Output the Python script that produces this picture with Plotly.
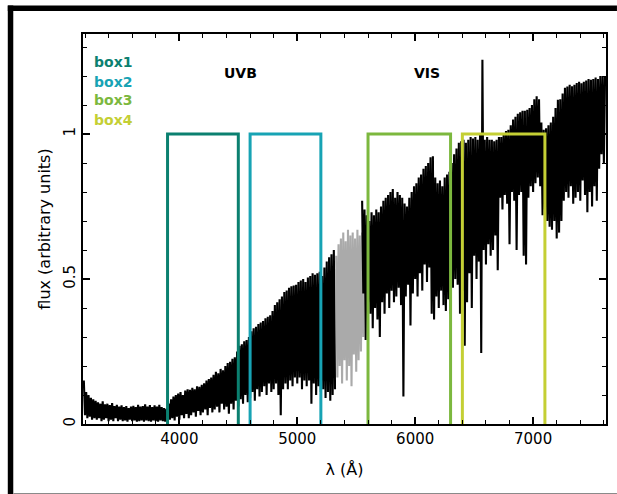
import numpy as np
import plotly.graph_objects as go

# ---------------- spectrum data (flux in arbitrary units, 10 A sampling) ----------------
UVB_START, VIS_START, DICH_START, STEP = 3190, 5550, 5330, 10

uvb_flux = [
    0.15, 0.03, 0.11, 0.02, 0.10, 0.025, 0.09, 0.015, 0.085, 0.02,
    0.08, 0.015, 0.075, 0.02, 0.07, 0.01, 0.078, 0.015, 0.068, 0.02,
    0.07, 0.01, 0.065, 0.015, 0.072, 0.01, 0.062, 0.02, 0.066, 0.01,
    0.06, 0.015, 0.064, 0.01, 0.058, 0.012, 0.062, 0.008, 0.055, 0.015,
    0.06, 0.01, 0.063, 0.012, 0.058, 0.008, 0.066, 0.01, 0.06, 0.012,
    0.062, 0.008, 0.068, 0.012, 0.06, 0.01, 0.065, 0.008, 0.058, 0.012,
    0.064, 0.01, 0.06, 0.008, 0.066, 0.012, 0.058, 0.01, 0.055, 0.008,
    0.052, 0.01, 0.07, 0.015, 0.085, 0.02, 0.095, 0.012, 0.10, 0.025,
    0.105, 0.015, 0.11, 0.03, 0.10, 0.02, 0.115, 0.035, 0.12, 0.02,
    0.118, 0.03, 0.125, 0.04, 0.12, 0.025, 0.13, 0.045, 0.128, 0.03,
    0.135, 0.04, 0.14, 0.05, 0.15, 0.03, 0.155, 0.055, 0.16, 0.04,
    0.17, 0.05, 0.18, 0.06, 0.175, 0.04, 0.19, 0.07, 0.185, 0.05,
    0.20, 0.06, 0.21, 0.035, 0.215, 0.07, 0.225, 0.05, 0.23, 0.08,
    0.25, 0.06, 0.27, 0.085, 0.275, 0.07, 0.285, 0.10, 0.29, 0.075,
    0.30, 0.09, 0.32, 0.11, 0.33, 0.08, 0.335, 0.12, 0.345, 0.095,
    0.35, 0.11, 0.355, 0.13, 0.365, 0.10, 0.37, 0.14, 0.375, 0.11,
    0.39, 0.12, 0.41, 0.14, 0.42, 0.10, 0.43, 0.03, 0.44, 0.12,
    0.455, 0.14, 0.46, 0.12, 0.47, 0.15, 0.475, 0.13, 0.478, 0.16,
    0.48, 0.14, 0.49, 0.16, 0.495, 0.12, 0.50, 0.15, 0.49, 0.13,
    0.505, 0.15, 0.51, 0.07, 0.52, 0.14, 0.515, 0.10, 0.52, 0.13,
    0.525, 0.11, 0.51, 0.12, 0.54, 0.09, 0.56, 0.11, 0.575, 0.08,
    0.585, 0.10, 0.60, 0.12,
]

dichroic_flux = [
    0.58, 0.16, 0.62, 0.20, 0.64, 0.14, 0.66, 0.22, 0.63, 0.15,
    0.67, 0.20, 0.65, 0.13, 0.66, 0.24, 0.64, 0.18, 0.67, 0.22,
    0.65, 0.25, 0.66, 0.30,
]

vis_flux = [
    0.77, 0.45, 0.74, 0.29, 0.72, 0.42, 0.70, 0.38, 0.73, 0.33,
    0.72, 0.40, 0.74, 0.36, 0.73, 0.30, 0.75, 0.42, 0.77, 0.38,
    0.78, 0.45, 0.79, 0.40, 0.80, 0.46, 0.81, 0.42, 0.78, 0.44,
    0.80, 0.47, 0.79, 0.41, 0.78, 0.095, 0.76, 0.44, 0.75, 0.48,
    0.78, 0.34, 0.80, 0.45, 0.82, 0.50, 0.83, 0.44, 0.85, 0.52,
    0.86, 0.46, 0.88, 0.55, 0.89, 0.49, 0.90, 0.54, 0.92, 0.38,
    0.923, 0.36, 0.85, 0.44, 0.83, 0.40, 0.84, 0.46, 0.82, 0.41,
    0.85, 0.39, 0.86, 0.43, 0.87, 0.38, 0.90, 0.47, 0.93, 0.50,
    0.95, 0.48, 0.97, 0.38, 0.975, 0.46, 0.98, 0.27, 0.97, 0.42,
    0.98, 0.52, 0.99, 0.40, 0.985, 0.58, 0.99, 0.50, 0.98, 0.56,
    1.00, 0.245, 1.256, 0.60, 0.98, 0.55, 0.99, 0.62, 0.98, 0.58,
    0.98, 0.60, 0.975, 0.65, 0.98, 0.53, 0.99, 0.78, 0.99, 0.74,
    1.00, 0.79, 1.01, 0.76, 1.015, 0.62, 1.03, 0.80, 1.05, 0.77,
    1.06, 0.60, 1.07, 0.79, 1.075, 0.80, 1.08, 0.58, 1.08, 0.55,
    1.084, 0.78, 1.09, 0.82, 1.10, 0.80, 1.12, 0.83, 1.13, 0.85,
    1.12, 0.82, 1.04, 0.72, 1.015, 0.74, 1.02, 0.70, 1.03, 0.68,
    1.04, 0.67, 1.06, 0.70, 1.09, 0.64, 1.118, 0.66, 1.12, 0.70,
    1.14, 0.77, 1.16, 0.80, 1.164, 0.78, 1.17, 0.82, 1.165, 0.76,
    1.17, 0.78, 1.176, 0.80, 1.18, 0.77, 1.175, 0.84, 1.18, 0.79,
    1.185, 0.73, 1.19, 0.80, 1.187, 0.75, 1.19, 0.82, 1.195, 0.77,
    1.19, 0.88, 1.20, 0.93, 1.20, 0.90, 1.20,
]

# ---------------- extraction boxes ----------------
box_names = ["box1", "box2", "box3", "box4"]
box_lo = [3900, 4600, 5600, 6400]
box_hi = [4500, 5200, 6300, 7100]
box_top = 1.0
box_colors = ["#0b8070", "#17a3b4", "#7cb83e", "#c4cf34"]
label_y = [1.247, 1.181, 1.116, 1.049]

arm_names = ["UVB", "VIS"]
arm_x = [4518, 6099]
arm_y = [1.211, 1.211]

FONT = "DejaVu Sans"

uvb_wave = UVB_START + STEP * np.arange(len(uvb_flux))
dich_wave = DICH_START + STEP * np.arange(len(dichroic_flux))
vis_wave = VIS_START + STEP * np.arange(len(vis_flux))

SPEC_W = 2.1

fig = go.Figure()

fig.add_trace(go.Scatter(x=dich_wave, y=dichroic_flux, mode="lines",
                         line=dict(color="#aaaaaa", width=SPEC_W, simplify=False),
                         hoverinfo="skip"))
fig.add_trace(go.Scatter(x=uvb_wave, y=uvb_flux, mode="lines",
                         line=dict(color="black", width=SPEC_W, simplify=False),
                         hoverinfo="skip"))
fig.add_trace(go.Scatter(x=vis_wave, y=vis_flux, mode="lines",
                         line=dict(color="black", width=SPEC_W, simplify=False),
                         hoverinfo="skip"))

for lo, hi, col in zip(box_lo, box_hi, box_colors):
    fig.add_trace(go.Scatter(x=[lo, lo, hi, hi], y=[0, box_top, box_top, 0],
                             mode="lines", line=dict(color=col, width=3),
                             hoverinfo="skip"))

for name, col, yy in zip(box_names, box_colors, label_y):
    fig.add_annotation(x=3261, y=yy, text=f"<b>{name}</b>", showarrow=False,
                       xanchor="left", yanchor="middle",
                       font=dict(family=FONT, size=14, color=col))

for name, xx, yy in zip(arm_names, arm_x, arm_y):
    fig.add_annotation(x=xx, y=yy, text=f"<b>{name}</b>", showarrow=False,
                       xanchor="center", yanchor="middle",
                       font=dict(family=FONT, size=14, color="black"))

# page border: heavy black rule on top and left, thin grey rule at the bottom
L, R, T, B = 83, 9, 34, 70
W, H = 617, 494
pw, ph = W - L - R, H - T - B


def px(xp):
    return (xp - L) / pw


def py(yp):
    return (H - B - yp) / ph


fig.add_shape(type="rect", xref="paper", yref="paper",
              x0=px(7.5), x1=px(13), y0=py(5.5), y1=py(H + 2),
              fillcolor="black", line=dict(width=0), layer="above")
fig.add_shape(type="rect", xref="paper", yref="paper",
              x0=px(7.5), x1=px(W + 2), y0=py(5.5), y1=py(11),
              fillcolor="black", line=dict(width=0), layer="above")
fig.add_shape(type="line", xref="paper", yref="paper",
              x0=px(13), x1=px(W + 2), y0=py(493.5), y1=py(493.5),
              line=dict(color="#8a8a8a", width=1), layer="above")

axis_common = dict(showgrid=False, zeroline=False, showline=True, linecolor="black",
                   linewidth=1.5, mirror="ticks", ticks="inside", tickcolor="black",
                   tickwidth=1.5, ticklen=7,
                   tickfont=dict(family=FONT, size=15, color="black"))

fig.update_xaxes(range=[3183, 7618], tickvals=[4000, 5000, 6000, 7000],
                 minor=dict(ticks="inside", ticklen=4, tickwidth=1.2,
                            tickcolor="black", dtick=200, tick0=0),
                 title=dict(text="λ (Å)", font=dict(family=FONT, size=16, color="black"),
                            standoff=17),
                 **axis_common)
fig.update_yaxes(range=[0, 1.345], tickvals=[0, 0.5, 1], ticktext=["0", "0.5", "1"],
                 tickangle=-90,
                 minor=dict(ticks="inside", ticklen=4, tickwidth=1.2,
                            tickcolor="black", dtick=0.1, tick0=0),
                 title=dict(text="flux (arbitrary units)",
                            font=dict(family=FONT, size=16, color="black"), standoff=7),
                 **axis_common)

fig.update_layout(width=W, height=H, margin=dict(l=L, r=R, t=T, b=B),
                  paper_bgcolor="white", plot_bgcolor="white", showlegend=False)

fig.write_html("out.html")
